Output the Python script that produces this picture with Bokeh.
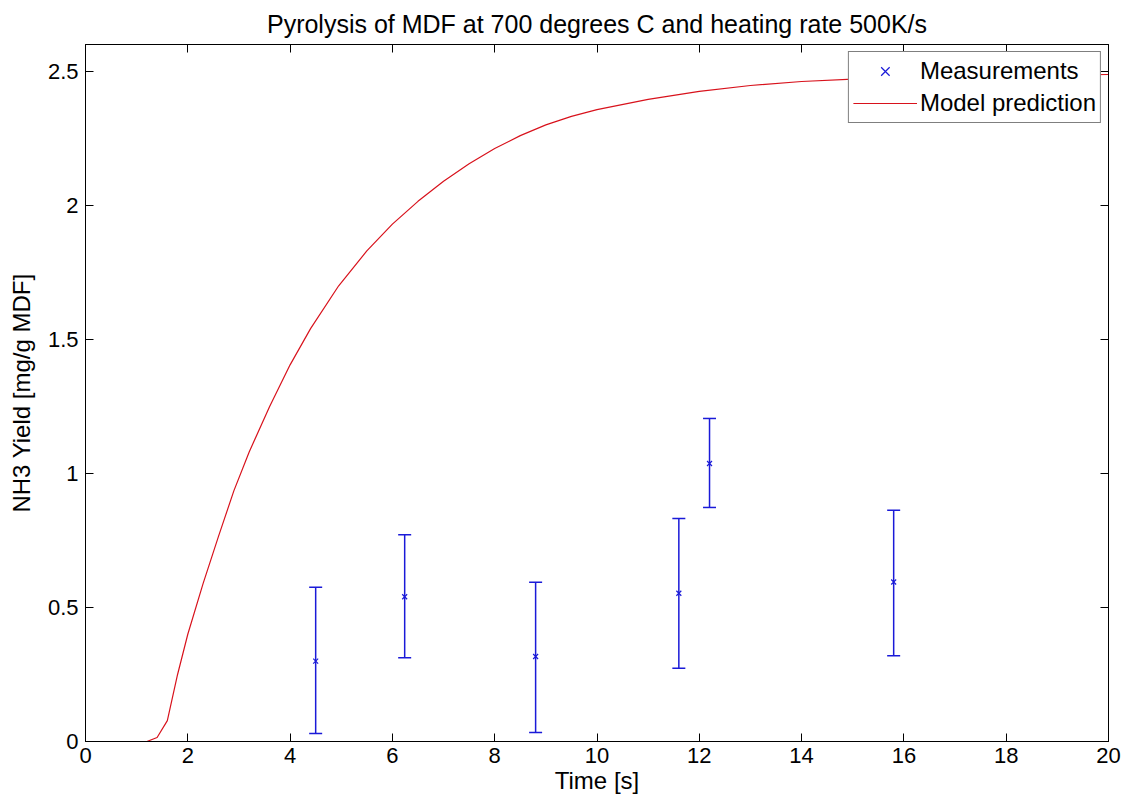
from bokeh.plotting import figure
from bokeh.models import ColumnDataSource, Whisker, TeeHead, LinearAxis, Range1d, FixedTicker, Legend, LegendItem
from bokeh.embed import file_html
from bokeh.resources import INLINE

# ---- data ----
curve_t = [0, 0.5, 1.0, 1.2, 1.4, 1.6, 1.8, 2.0, 2.3, 2.6, 2.9, 3.2, 3.6, 4.0, 4.4, 4.95, 5.5,
           6.0, 6.5, 7.0, 7.5, 8.0, 8.5, 9.0, 9.5, 10.0, 11.0, 12.0, 13.0, 14.0, 15.0, 16.0,
           17.0, 18.0, 19.0, 20.0]
curve_y = [0, 0, 0, 0, 0.015, 0.078, 0.25, 0.40, 0.59, 0.765, 0.935, 1.08, 1.25, 1.405, 1.54,
           1.70, 1.83, 1.93, 2.015, 2.09, 2.155, 2.212, 2.26, 2.30, 2.332, 2.357, 2.395, 2.425,
           2.447, 2.462, 2.471, 2.477, 2.481, 2.484, 2.486, 2.488]

meas_t = [4.5, 6.24, 8.8, 11.6, 12.2, 15.8]
meas_y = [0.30, 0.54, 0.317, 0.553, 1.037, 0.595]
meas_lo = [0.03, 0.312, 0.034, 0.273, 0.873, 0.320]
meas_hi = [0.575, 0.771, 0.594, 0.832, 1.205, 0.863]

x_ticks = [0, 2, 4, 6, 8, 10, 12, 14, 16, 18, 20]
y_ticks = [0, 0.5, 1, 1.5, 2, 2.5]
y_tick_labels = {0: "0", 0.5: "0.5", 1: "1", 1.5: "1.5", 2: "2", 2.5: "2.5"}

title_text = "Pyrolysis of MDF at 700 degrees C and heating rate 500K/s"
x_label = "Time [s]"
y_label = "NH3 Yield [mg/g MDF]"

FONT = "Liberation Sans"
BLUE = "#1a1ad8"
RED = "#d8121c"

p = figure(width=1127, height=803, output_backend="svg", toolbar_location=None,
           x_range=Range1d(0, 20), y_range=Range1d(0, 2.6),
           min_border_left=85, min_border_right=19, min_border_top=44, min_border_bottom=62,
           title=title_text)
p.title.align = "center"
p.title.vertical_align = "top"
p.title.text_font = FONT
p.title.text_font_size = "25px"
p.title.text_font_style = "normal"
p.title.text_color = "black"
p.title.standoff = 10

p.xgrid.visible = False
p.ygrid.visible = False
p.outline_line_color = "black"
p.background_fill_color = "white"
p.border_fill_color = "white"

for ax in [p.xaxis[0], p.yaxis[0]]:
    ax.major_tick_in = 8
    ax.major_tick_out = 0
    ax.minor_tick_line_color = None
    ax.axis_line_color = "black"
    ax.major_tick_line_color = "black"
    ax.major_label_text_font = FONT
    ax.major_label_text_font_size = "22px"
    ax.major_label_text_color = "black"
    ax.axis_label_text_font = FONT
    ax.axis_label_text_font_size = "24px"
    ax.axis_label_text_font_style = "normal"
    ax.axis_label_text_color = "black"

p.xaxis[0].ticker = FixedTicker(ticks=x_ticks)
p.yaxis[0].ticker = FixedTicker(ticks=y_ticks)
p.yaxis[0].major_label_overrides = y_tick_labels
p.xaxis[0].axis_label = x_label
p.yaxis[0].axis_label = y_label
p.xaxis[0].major_label_standoff = 6
p.xaxis[0].axis_label_standoff = 1
p.yaxis[0].major_label_standoff = 7
p.yaxis[0].axis_label_standoff = 10

top_ax = LinearAxis(ticker=FixedTicker(ticks=x_ticks))
right_ax = LinearAxis(ticker=FixedTicker(ticks=y_ticks))
for ax in [top_ax, right_ax]:
    ax.major_tick_in = 8
    ax.major_tick_out = 0
    ax.minor_tick_line_color = None
    ax.major_label_text_font_size = "0px"
    ax.major_label_text_color = None
    ax.major_label_standoff = 0
p.add_layout(top_ax, "above")
p.add_layout(right_ax, "right")

# model curve
line_r = p.line(curve_t, curve_y, line_color=RED, line_width=1.2)

# measurements with error bars
src = ColumnDataSource(dict(t=meas_t, y=meas_y, lo=meas_lo, hi=meas_hi))
wh = Whisker(base="t", upper="hi", lower="lo", source=src, line_color=BLUE, line_width=1.5,
             upper_head=TeeHead(size=13, line_color=BLUE, line_width=1.5),
             lower_head=TeeHead(size=13, line_color=BLUE, line_width=1.5))
p.add_layout(wh)
sc_r = p.scatter("t", "y", source=src, marker="x", size=7, line_color=BLUE, line_width=1.2)

legend = Legend(items=[LegendItem(label="Measurements", renderers=[sc_r]),
                       LegendItem(label="Model prediction", renderers=[line_r])],
                location="top_right")
legend.label_text_font = FONT
legend.label_text_font_size = "24px"
legend.label_text_color = "black"
legend.border_line_color = "black"
legend.border_line_width = 1
legend.background_fill_color = "white"
legend.background_fill_alpha = 1.0
legend.padding = 4
legend.spacing = 2
legend.margin = 7
legend.glyph_width = 64
legend.glyph_height = 30
legend.label_height = 30
legend.label_standoff = 3
p.add_layout(legend, "center")

open("out.html", "w").write(file_html(p, INLINE))
